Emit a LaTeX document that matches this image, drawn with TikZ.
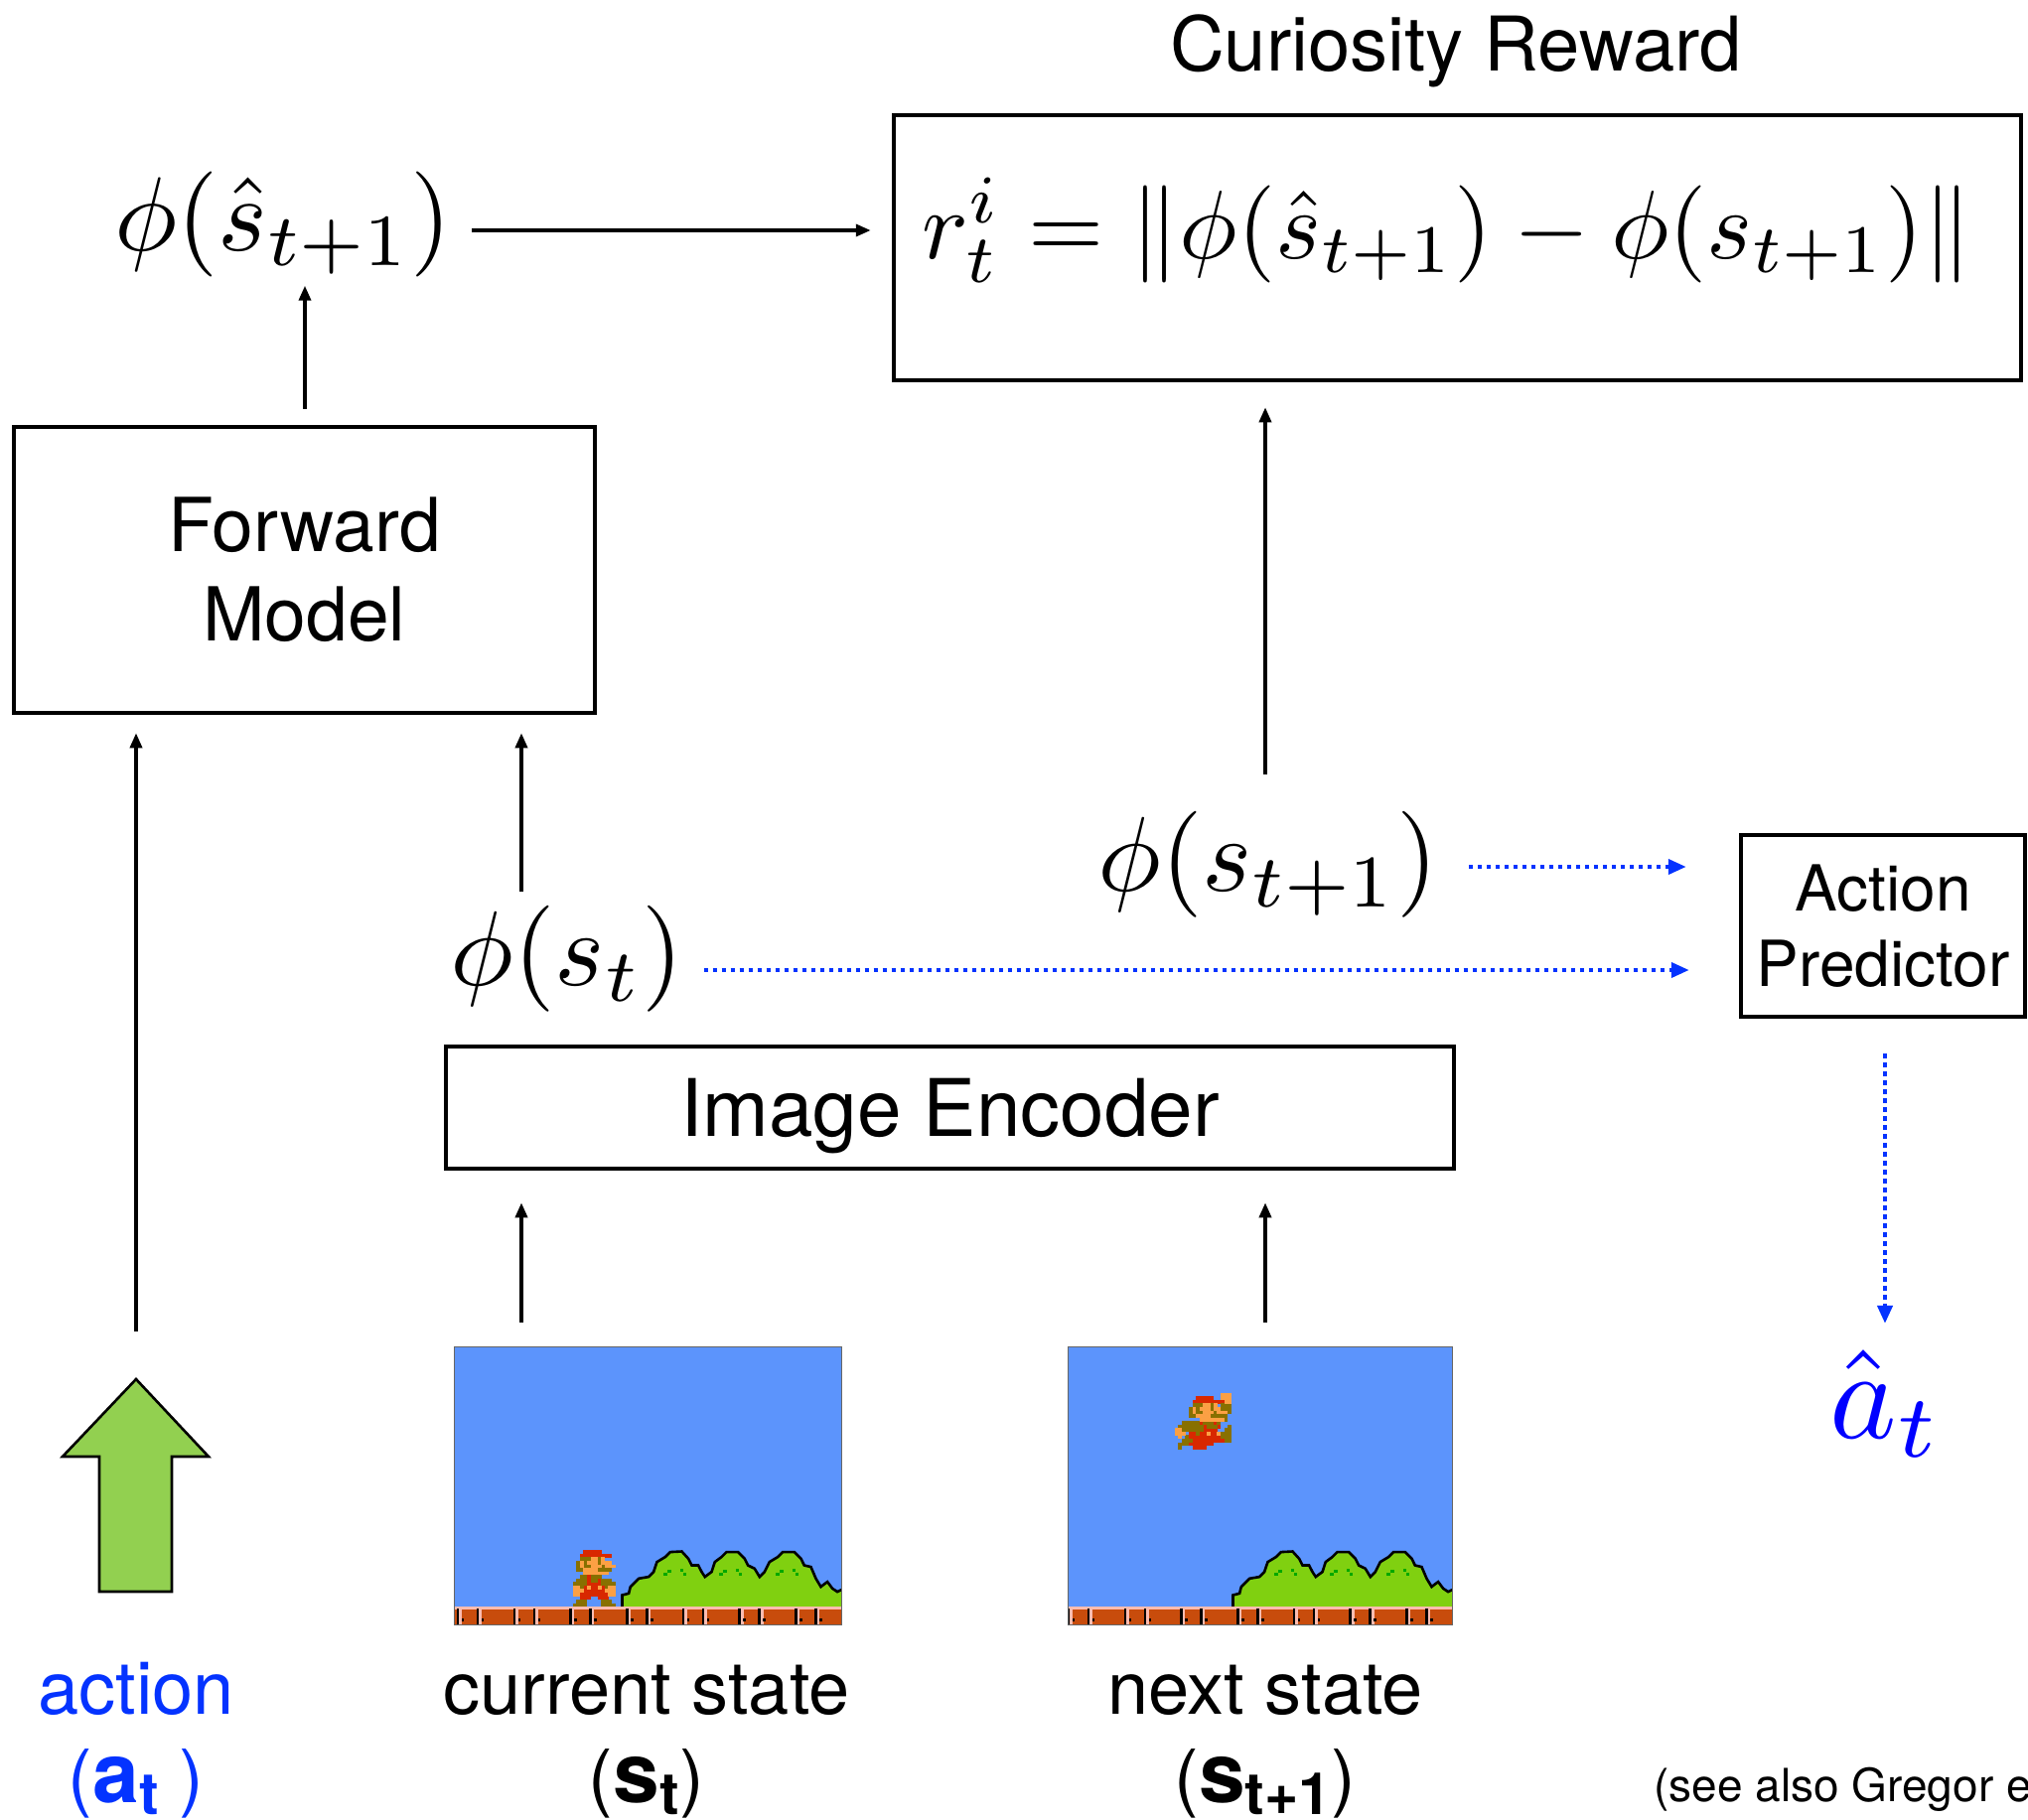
\RequirePackage{fix-cm}
\documentclass[tikz,border=0pt]{standalone}
\usepackage[no-math]{fontspec}
\usepackage{graphicx}
\setmainfont{TeX Gyre Heros}
\usetikzlibrary{arrows.meta}

\definecolor{actblue}{RGB}{4,51,255}
\definecolor{hatblue}{RGB}{0,0,255}
\definecolor{sky}{RGB}{92,148,252}
\definecolor{arrowgreen}{RGB}{146,208,80}
\definecolor{bushgreen}{RGB}{128,208,16}
\definecolor{bushdark}{RGB}{0,168,0}
\definecolor{brick}{RGB}{200,76,12}
\definecolor{brickhi}{RGB}{252,188,176}
\definecolor{mred}{RGB}{216,40,0}
\definecolor{molive}{RGB}{136,112,0}
\definecolor{mskin}{RGB}{252,160,68}

% math set at 10pt and enlarged, so sub- and superscripts keep their small-size design
\newcommand\bigmath[2]{\scalebox{#1}{$#2$}}

\tikzset{
  % ground strip and triple bush of the game screen
  scene/.pic={
    \filldraw[fill=bushgreen, draw=black, line width=2.6pt, line join=miter]
      (168.7,263) -- (168.7,249.7) -- (175.3,248) -- (177,241.3) -- (182,236.3)
      -- (185.3,233) -- (195.3,231.3) -- (200.3,226.3) -- (203.7,216.3)
      -- (212,211.3) -- (217,206.3) -- (228.7,205.7) -- (235.3,213)
      -- (238.7,219.7) -- (245.3,219.7) -- (248.7,226.3) -- (252,231.3)
      -- (258.7,226.3) -- (262,216.3) -- (268.7,211.3) -- (273.7,206.3)
      -- (285.3,206.3) -- (292,213) -- (295.3,219.7) -- (302,223)
      -- (307,231.3) -- (312,226.3) -- (317,216.3) -- (325.3,211.3)
      -- (330.3,206.3) -- (342,206.3) -- (348.7,213) -- (352,219.7)
      -- (358.7,221.3) -- (363.7,233) -- (368.7,241.3) -- (375.3,236.3)
      -- (380.3,243) -- (385.3,246.3) -- (388.7,244.7) -- (395,244.7)
      -- (395,263) -- cycle;
    \foreach \h in {0,56.5,113} {
      \fill[bushdark] ({210+\h},227) rectangle ++(4,3);
      \fill[bushdark] ({214+\h},224.5) rectangle ++(4,3);
      \fill[bushdark] ({227+\h},223) rectangle ++(3,3);
      \fill[bushdark] ({230+\h},227) rectangle ++(3,3);
    }
    \fill[brick] (-5,261.3) rectangle (395,285);
    \fill[brickhi] (-5,261.3) rectangle (395,264);
    \foreach \k in {0,...,6} {
      \fill[black]   ({2+56.7*\k},263) rectangle ++(2.6,18);
      \fill[brickhi] ({4.6+56.7*\k},264) rectangle ++(2.6,17);
      \fill[black]   ({22+56.7*\k},263) rectangle ++(2.6,18);
      \fill[brickhi] ({24.6+56.7*\k},264) rectangle ++(2.6,17);
      \fill[black]   ({7+56.7*\k},273) rectangle ++(2.6,3);
      \fill[black]   ({27+56.7*\k},273) rectangle ++(2.6,3);
    }
  },
  % small standing hero sprite, 12 x 16 cells
  mariostand/.pic={
    \foreach \r/\c/\n in {0/3/5,1/2/9,7/4/1,8/4/1,8/7/1,9/4/4,10/3/1,10/5/2,10/8/1,11/3/6,12/2/8,13/2/3,13/7/3}
      \fill[mred] ({\c*3.55},{\r*3.55}) rectangle ++({\n*3.55+0.3},3.85);
    \foreach \r/\c/\n in {2/2/3,2/7/1,3/1/1,3/3/1,3/7/1,4/1/1,4/3/2,4/8/1,5/1/2,5/7/4,7/2/2,7/5/3,8/1/3,8/5/2,8/8/3,9/0/4,9/8/4,10/2/1,10/9/1,14/1/3,14/8/3,15/0/4,15/8/4}
      \fill[molive] ({\c*3.55},{\r*3.55}) rectangle ++({\n*3.55+0.3},3.85);
    \foreach \r/\c/\n in {2/5/2,2/8/1,3/2/1,3/4/3,3/8/3,4/2/1,4/5/3,4/9/3,5/3/4,6/3/7,10/0/2,10/4/1,10/7/1,10/10/2,11/0/3,11/9/3,12/0/2,12/10/2}
      \fill[mskin] ({\c*3.55},{\r*3.55}) rectangle ++({\n*3.55+0.3},3.85);
  },
  % small jumping hero sprite, 16 x 16 cells
  mariojump/.pic={
    \foreach \r/\c/\n in {1/6/5,2/5/9,8/7/1,8/11/1,9/8/1,9/12/1,10/8/4,11/4/2,11/7/2,11/10/2,12/4/9,13/5/9,14/4/7,15/5/4}
      \fill[mred] ({\c*3.55},{\r*3.55}) rectangle ++({\n*3.55+0.3},3.85);
    \foreach \r/\c/\n in {3/5/3,3/10/1,3/13/3,4/4/1,4/6/1,4/10/1,4/13/3,5/4/1,5/6/2,5/11/1,5/15/1,6/4/2,6/10/5,7/14/1,8/2/5,8/8/3,8/12/1,9/1/7,9/9/3,9/15/1,10/2/6,10/14/2,11/6/1,11/13/3,12/3/1,12/13/3,13/2/3,13/14/2,14/1/3,15/1/1}
      \fill[molive] ({\c*3.55},{\r*3.55}) rectangle ++({\n*3.55+0.3},3.85);
    \foreach \r/\c/\n in {0/13/3,1/13/3,2/14/2,3/8/2,3/11/1,4/5/1,4/7/3,4/11/2,5/5/1,5/8/3,5/12/3,6/6/4,7/7/7,10/0/2,11/0/3,11/9/1,11/12/1,12/1/1}
      \fill[mskin] ({\c*3.55},{\r*3.55}) rectangle ++({\n*3.55+0.3},3.85);
  }
}

\begin{document}
\begin{tikzpicture}[x=1pt,y=-1pt,
  box/.style={draw, line width=4.5pt, inner sep=0pt, align=center},
  link/.style={line width=3.5pt, -{Triangle[length=15pt,width=12pt]}},
  dotlink/.style={actblue, line width=4pt, dash pattern=on 4.5pt off 4.5pt,
                  -{Triangle[length=18pt,width=15pt]}},
  lbl/.style={anchor=base, inner sep=0pt},
  frame/.style={fill=sky, inner sep=0pt, minimum height=279pt}
]
\useasboundingbox (0,0) rectangle (2042,1833);

% ---- blocks ----
\node[lbl, font=\fontsize{76}{90}\selectfont] (title) at (1466,72) {Curiosity Reward};
\node[box, minimum width=1135pt, minimum height=267pt] (reward) at (1467.5,249.5) {};
\node[lbl] (rewardeq) at (1457,260)
  {\bigmath{9.8}{r^i_t = \|\phi(\hat{s}_{t+1}) - \phi(s_{t+1})\|}};

\node[box, minimum width=585pt, minimum height=288pt,
      font=\fontsize{75}{90}\selectfont] (fwd) at (306.5,574) {Forward\\Model};
\node[box, minimum width=1015pt, minimum height=123pt, text height=58pt, text depth=0pt,
      font=\fontsize{80}{90}\selectfont] (enc) at (956.5,1115.5) {Image Encoder};
\node[box, minimum width=286pt, minimum height=183pt,
      font=\fontsize{64}{76}\selectfont] (ap) at (1896,932.5) {Action\\Predictor};

% ---- feature labels ----
\node[lbl] (phishat) at (285,252) {\bigmath{10.6}{\phi(\hat{s}_{t+1})}};
\node[lbl] (phist) at (571,992) {\bigmath{10.7}{\phi(s_t)}};
\node[lbl] (phis1) at (1277,897) {\bigmath{10.7}{\phi(s_{t+1})}};
\node[lbl, text=hatblue] (ahat) at (1899,1448) {\bigmath{12.8}{\hat{a}_t}};

% ---- game frames ----
\node[frame, minimum width=389pt] (img1) at (652.5,1496.5) {};
\node[frame, minimum width=386pt] (img2) at (1269,1496.5) {};
\begin{scope}
  \clip (img1.north west) rectangle (img1.south east);
  \pic at (img1.north west) {scene};
  \pic at ([shift={(119,204.5)}]img1.north west) {mariostand};
\end{scope}
\begin{scope}
  \clip (img2.north west) rectangle (img2.south east);
  \pic at ([shift={(-3,0)}]img2.north west) {scene};
  \pic at ([shift={(107,46)}]img2.north west) {mariojump};
\end{scope}
\draw[black!60, line width=1.2pt] (img1.north west) rectangle (img1.south east);
\draw[black!60, line width=1.2pt] (img2.north west) rectangle (img2.south east);

% ---- action arrow ----
\coordinate (actip) at (137,1389);
\filldraw[fill=arrowgreen, draw=black, line width=2.6pt, line join=miter]
  (actip) -- (210,1467) -- (173,1467) -- (173,1603) -- (100,1603)
  -- (100,1467) -- (63,1467) -- cycle;

% ---- bottom captions ----
\node[lbl, text=actblue, font=\fontsize{74}{80}\selectfont] (actlbl) at (137,1726) {action};
\node[lbl, text=actblue, font=\fontsize{74}{80}\selectfont] (actsym) at (137,1815)
  {({\fontsize{84}{90}\selectfont\bfseries a\textsubscript{t}} )};
\node[lbl, font=\fontsize{74}{80}\selectfont] (curlbl) at (651,1726) {current state};
\node[lbl, font=\fontsize{74}{80}\selectfont] (cursym) at (651,1815)
  {({\fontsize{84}{90}\selectfont\bfseries s\textsubscript{t}})};
\node[lbl, font=\fontsize{74}{80}\selectfont] (nxtlbl) at (1274,1726) {next state};
\node[lbl, font=\fontsize{74}{80}\selectfont] (nxtsym) at (1274,1815)
  {({\fontsize{84}{90}\selectfont\bfseries s\textsubscript{t+1}})};
\node[anchor=base west, inner sep=0pt, font=\fontsize{46}{50}\selectfont] (note) at (1665,1814)
  {(see also Gregor e};

% ---- connectors ----
\draw[link, shorten <=20pt, shorten >=21pt] (phishat.east |- 0,232) -- (reward.west |- 0,232);
\draw[link, shorten <=16pt, shorten >=9pt] (fwd.north -| 307,0) -- (phishat.south -| 307,0);
\draw[link, shorten <=48pt, shorten >=18pt] (actip) -- (fwd.south -| actip);
\draw[link, shorten <=14pt, shorten >=18pt] (phist.north -| 525,0) -- (fwd.south -| 525,0);
\draw[link, shorten <=37pt, shorten >=25pt] (phis1.north -| 1274,0) -- (reward.south -| 1274,0);
\draw[link, shorten <=25pt, shorten >=32pt] (img1.north -| 525,0) -- (enc.south -| 525,0);
\draw[link, shorten <=25pt, shorten >=32pt] (img2.north -| 1274,0) -- (enc.south -| 1274,0);
\draw[dotlink, shorten <=20pt, shorten >=50pt] (phist.east |- 0,977) -- (ap.west |- 0,977);
\draw[dotlink, shorten <=30pt, shorten >=53pt] (phis1.east |- 0,873) -- (ap.west |- 0,873);
\draw[dotlink, shorten <=35pt, shorten >=26pt] (ap.south -| 1898,0) -- (ahat.north -| 1898,0);
\end{tikzpicture}
\end{document}
